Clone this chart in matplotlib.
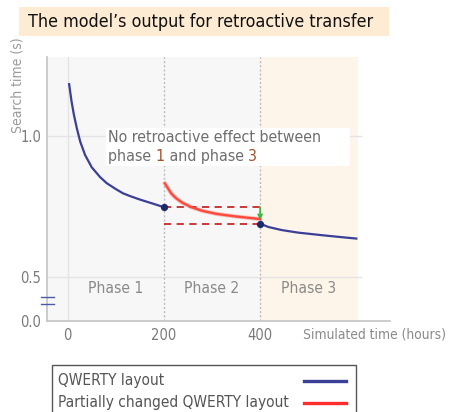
import numpy as np
import matplotlib
matplotlib.use("Agg")
import matplotlib.pyplot as plt
from matplotlib.patches import Rectangle
from matplotlib.lines import Line2D
import matplotlib.transforms as mtransforms

plt.rcParams['font.family'] = 'DejaVu Sans'
plt.rcParams['font.stretch'] = 'condensed'

### DATA ###
# QWERTY layout, phase 1 (0-200 h) and phase 3 (400-600 h)
qwerty_p1_x = [3, 8, 13, 19, 26, 36, 50, 67, 81, 100, 115, 130, 150, 178, 200]
qwerty_p1_y = [1.183, 1.122, 1.074, 1.027, 0.980, 0.933, 0.889, 0.855, 0.833,
               0.812, 0.797, 0.787, 0.775, 0.760, 0.748]
qwerty_p3_x = [400, 417, 445, 479, 528, 563, 600]
qwerty_p3_y = [0.690, 0.678, 0.667, 0.658, 0.649, 0.643, 0.637]

# partially changed layout, phase 2 (200-400 h)
partial_x = [202, 215, 225, 238, 257, 280, 310, 350, 400]
partial_y = [0.832, 0.797, 0.780, 0.764, 0.748, 0.735, 0.724, 0.715, 0.706]

phase_names = ['Phase 1', 'Phase 2', 'Phase 3']
phase_centers = [100, 300, 500]
phase_edges = [200, 400]
legend_labels = ['QWERTY layout', 'Partially changed QWERTY layout']

BLUE = '#3b3f95'
RED = '#ff4a3d'
NAVY = '#1d2a6a'
GREY = '#8a8a8a'


# broken y axis: 0-0.5 squeezed
SQ = 0.309
def fwd(y):
    y = np.asarray(y, dtype=float)
    return np.where(y < 0.5, y * SQ, 0.5 * SQ + (y - 0.5))

def inv(t):
    t = np.asarray(t, dtype=float)
    return np.where(t < 0.5 * SQ, t / SQ, t - 0.5 * SQ + 0.5)


fig = plt.figure(figsize=(4.49, 4.12), dpi=100)
ax = fig.add_axes([47 / 449, 1 - 321 / 412, 343 / 449, 264 / 412])
ax.set_yscale('function', functions=(fwd, inv))
ax.set_xlim(-43, 670)
ax.set_ylim(0, 1.279)

# backgrounds for the phases
ax.axvspan(-43, phase_edges[1], color='#f7f7f7', zorder=0, lw=0)
ax.axvspan(phase_edges[1], 603, color='#fdf5ea', zorder=0, lw=0)

# grid
ax.axvline(0, color='#e4e4e4', lw=1, zorder=1)
ax.hlines([0.5, 1.0], -43, 612, color='#e4e4e4', lw=1, zorder=1)
for xe in phase_edges:
    ax.axvline(xe, color='#bdbdbd', lw=1, ls=(0, (1.5, 1.5)), zorder=1)

# annotation box
ax.add_patch(Rectangle((80, 0.894), 507, 0.134, facecolor='white',
                       edgecolor='none', zorder=2))
FS = 11.4
txt_kw = dict(fontsize=FS, color='#6e6e6e', va='center', zorder=3)
ax.text(84, 0.993, 'No retroactive effect between', **txt_kw)
t = ax.text(84, 0.926, 'phase ', **txt_kw)
t = ax.annotate('1', xy=(1, 0.5), xycoords=t, fontsize=FS, color='#a0522d',
                va='center', zorder=3)
t = ax.annotate(' and phase ', xy=(1, 0.5), xycoords=t, fontsize=FS,
                color='#6e6e6e', va='center', zorder=3)
ax.annotate('3', xy=(1, 0.5), xycoords=t, fontsize=FS, color='#a0522d',
            va='center', zorder=3)

# curves
ax.plot(qwerty_p1_x, qwerty_p1_y, color=BLUE, lw=1.6, zorder=4)
ax.plot(qwerty_p3_x, qwerty_p3_y, color=BLUE, lw=1.6, zorder=4)
ax.plot(partial_x, partial_y, color=RED, lw=3.0, alpha=0.3, zorder=4)
ax.plot(partial_x, partial_y, color=RED, lw=1.7, zorder=5)

# reference levels for the transfer
ax.hlines([qwerty_p1_y[-1], qwerty_p3_y[0]], phase_edges[0], phase_edges[1],
          color='#c42a2a', lw=1.3, ls=(0, (4, 3)), zorder=4)
ax.annotate('', xy=(phase_edges[1], partial_y[-1] - 0.003),
            xytext=(phase_edges[1], qwerty_p1_y[-1]),
            arrowprops=dict(arrowstyle='->', color='#3cb043', lw=1.2,
                            mutation_scale=7, shrinkA=0, shrinkB=0), zorder=6)
ax.plot([qwerty_p1_x[-1], qwerty_p3_x[0]], [qwerty_p1_y[-1], qwerty_p3_y[0]],
        ls='none', marker='o', ms=4.2, color=NAVY, zorder=7)

for name, xc in zip(phase_names, phase_centers):
    ax.text(xc, 0.37, name, ha='center', va='center', fontsize=11.2,
            color=GREY, zorder=3)

# axis break marks
brk = mtransforms.blended_transform_factory(ax.transAxes, ax.transData)
for yb in [0.278, 0.191]:
    ax.plot([-0.018, 0.02], [yb, yb], color='#4a5aa8', lw=1, transform=brk,
            clip_on=False, zorder=8)

# axes styling
for s in ['top', 'right']:
    ax.spines[s].set_visible(False)
for s in ['left', 'bottom']:
    ax.spines[s].set_color('#c4c4c4')
    ax.spines[s].set_linewidth(1.2)
ax.set_xticks([0, 200, 400])
ax.set_yticks([0.0, 0.5, 1.0])
ax.set_yticklabels(['0.0', '0.5', '1.0'])
ax.tick_params(length=0, labelsize=10.5, colors='#7a7a7a', pad=5)
ax.tick_params(axis='y', pad=4)
ax.minorticks_off()

fig.text(18 / 449, 1 - 85 / 412, 'Search time (s)', rotation=90, ha='center',
         va='center', fontsize=10, color='#9a9a9a')
fig.text(303 / 449, 1 - 335 / 412, 'Simulated time (hours)', ha='left',
         va='center', fontsize=9.9, color='#8a8a8a')

# title banner
fig.add_artist(Rectangle((19 / 449, 1 - 36 / 412), 370 / 449, 29 / 412,
                         transform=fig.transFigure, facecolor='#fdebd3',
                         edgecolor='none'))
fig.text(28 / 449, 1 - 22 / 412, 'The model\u2019s output for retroactive transfer',
         ha='left', va='center', fontsize=12.9, color='#111111')

# legend box (handles on the right)
fig.add_artist(Rectangle((51.5 / 449, 1 - 440 / 412), 304.5 / 449, 75 / 412,
                         transform=fig.transFigure, facecolor='white',
                         edgecolor='#555555', lw=1))
for i, (lab, col) in enumerate(zip(legend_labels, [BLUE, '#ff2d2d'])):
    yy = 1 - (381 + 22 * i) / 412
    fig.text(58 / 449, yy, lab, ha='left', va='center', fontsize=11.1,
             color='#555555')
    fig.add_artist(Line2D([304 / 449, 346 / 449], [yy, yy],
                          transform=fig.transFigure, color=col, lw=2.4))

fig.savefig('out.png', dpi=100)
